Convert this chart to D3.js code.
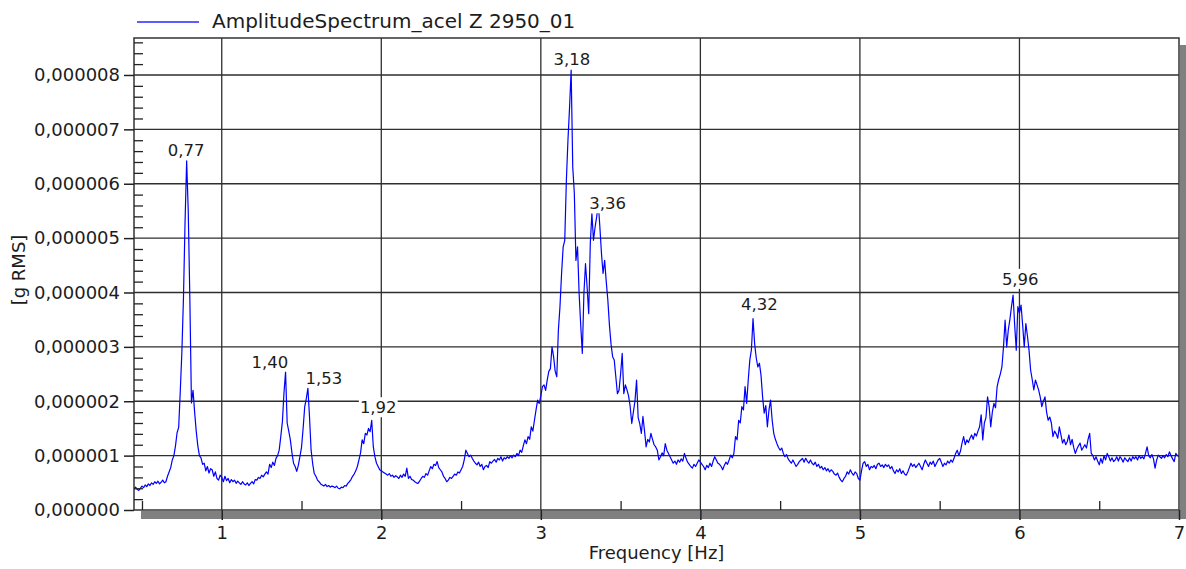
<!DOCTYPE html>
<html>
<head>
<meta charset="utf-8">
<script src="https://cdn.jsdelivr.net/npm/d3@7/dist/d3.min.js"></script>
<style>
  html, body { margin: 0; padding: 0; background: #fff; }
  svg { display: block; font-family: "DejaVu Sans", Verdana, sans-serif; }
</style>
</head>
<body>
<svg id="chart" width="1186" height="569"></svg>
<script>
// ---------------- DATA ----------------
const seriesName = "AmplitudeSpectrum_acel Z 2950_01";
const xTitle = "Frequency [Hz]";
const yTitle = "[g RMS]";
// frequency bins: start and spacing [Hz]
const freqStart = 0.45;
const freqStep = 0.01;
// amplitude per bin, in units of 1e-6 g RMS
const amplitude = [
  0.40, 0.42, 0.38, 0.36, 0.40,                               // 0.45
  0.44, 0.41, 0.46, 0.43, 0.48, 0.45, 0.50, 0.47, 0.52, 0.49, // 0.50
  0.53, 0.48, 0.51, 0.55, 0.50, 0.52, 0.62, 0.70, 0.78, 0.92, // 0.60
  1.00, 1.18, 1.42, 1.52, 2.18, 2.90, 3.90, 5.30, 6.42, 5.50, // 0.70
  3.90, 1.97, 2.20, 1.80, 1.45, 1.18, 1.00, 0.96, 0.84, 0.86, // 0.80
  0.72, 0.80, 0.68, 0.76, 0.74, 0.62, 0.70, 0.58, 0.55, 0.64, // 0.90
  0.60, 0.52, 0.62, 0.54, 0.58, 0.50, 0.56, 0.52, 0.55, 0.49, // 1.00
  0.53, 0.50, 0.47, 0.52, 0.48, 0.46, 0.50, 0.45, 0.49, 0.52, // 1.10
  0.48, 0.56, 0.55, 0.60, 0.58, 0.64, 0.61, 0.66, 0.70, 0.66, // 1.20
  0.84, 0.78, 0.88, 0.82, 0.95, 1.00, 1.10, 1.35, 1.62, 2.15, // 1.30
  2.54, 1.60, 1.45, 1.29, 1.05, 0.86, 0.80, 0.71, 0.82, 0.98, // 1.40
  1.15, 1.50, 1.90, 2.05, 2.24, 1.72, 1.10, 0.85, 0.67, 0.62, // 1.50
  0.55, 0.52, 0.48, 0.46, 0.44, 0.47, 0.43, 0.45, 0.42, 0.44, // 1.60
  0.43, 0.41, 0.44, 0.40, 0.39, 0.42, 0.41, 0.45, 0.44, 0.49, // 1.70
  0.52, 0.56, 0.62, 0.66, 0.72, 0.80, 0.92, 1.05, 1.29, 1.22, // 1.80
  1.41, 1.38, 1.50, 1.44, 1.65, 1.16, 0.98, 0.86, 0.80, 0.74, // 1.90
  0.72, 0.70, 0.68, 0.66, 0.64, 0.67, 0.62, 0.64, 0.60, 0.63, // 2.00
  0.61, 0.58, 0.64, 0.60, 0.66, 0.62, 0.77, 0.58, 0.62, 0.56, // 2.10
  0.55, 0.52, 0.50, 0.49, 0.53, 0.58, 0.62, 0.60, 0.67, 0.64, // 2.20
  0.72, 0.80, 0.76, 0.84, 0.82, 0.89, 0.78, 0.74, 0.70, 0.62, // 2.30
  0.58, 0.52, 0.55, 0.60, 0.58, 0.62, 0.66, 0.64, 0.70, 0.68, // 2.40
  0.74, 0.80, 0.92, 1.10, 1.04, 0.98, 1.01, 0.95, 0.90, 0.86, // 2.50
  0.83, 0.88, 0.80, 0.84, 0.74, 0.80, 0.82, 0.78, 0.89, 0.86, // 2.60
  0.90, 0.93, 0.88, 0.95, 0.92, 0.98, 0.90, 0.96, 0.94, 0.98, // 2.70
  0.95, 1.00, 0.96, 1.01, 0.98, 1.04, 1.00, 1.10, 1.06, 1.18, // 2.80
  1.29, 1.22, 1.35, 1.30, 1.53, 1.45, 1.65, 1.84, 2.02, 1.96, // 2.90
  2.10, 2.27, 2.30, 2.20, 2.39, 2.55, 2.60, 3.00, 2.82, 2.55, // 3.00
  2.45, 3.31, 3.74, 4.35, 4.84, 4.96, 6.06, 6.80, 7.40, 8.09, // 3.10
  6.31, 5.82, 4.59, 4.84, 3.98, 3.40, 2.88, 3.98, 4.53, 4.10, // 3.20
  3.61, 4.90, 5.45, 4.96, 5.20, 5.39, 5.64, 5.21, 4.72, 4.35, // 3.30
  4.59, 4.20, 3.86, 3.40, 3.05, 2.82, 2.76, 2.45, 2.14, 2.20, // 3.40
  2.50, 2.88, 2.14, 2.30, 2.21, 2.10, 1.90, 1.59, 1.80, 2.00, // 3.50
  2.39, 1.70, 1.59, 1.41, 1.72, 1.45, 1.16, 1.30, 1.25, 1.41, // 3.60
  1.30, 1.20, 1.16, 1.10, 0.92, 0.98, 1.05, 1.00, 1.22, 1.10, // 3.70
  1.04, 0.98, 0.92, 0.86, 0.90, 0.84, 0.92, 0.88, 0.94, 0.90, // 3.80
  1.04, 0.95, 0.88, 0.84, 0.80, 0.77, 0.84, 0.80, 0.86, 0.92, // 3.90
  0.88, 0.84, 0.80, 0.74, 0.82, 0.78, 0.86, 0.80, 0.90, 0.98, // 4.00
  0.92, 0.86, 0.84, 0.80, 0.74, 0.82, 0.88, 0.84, 0.92, 1.01, // 4.10
  0.96, 1.04, 1.35, 1.29, 1.65, 1.60, 1.90, 1.84, 2.27, 1.96, // 4.20
  2.39, 2.76, 2.95, 3.52, 3.06, 2.80, 2.63, 2.70, 2.48, 2.08, // 4.30
  1.78, 1.92, 1.53, 1.84, 2.02, 1.65, 1.41, 1.30, 1.22, 1.15, // 4.40
  1.10, 1.14, 1.04, 0.98, 1.02, 0.94, 0.90, 0.86, 0.92, 0.86, // 4.50
  0.80, 0.84, 0.89, 0.92, 0.95, 0.88, 0.95, 0.90, 0.86, 0.92, // 4.60
  0.86, 0.83, 0.88, 0.80, 0.84, 0.77, 0.80, 0.74, 0.78, 0.72, // 4.70
  0.76, 0.70, 0.74, 0.71, 0.66, 0.64, 0.68, 0.60, 0.55, 0.52, // 4.80
  0.58, 0.62, 0.70, 0.66, 0.74, 0.68, 0.64, 0.70, 0.67, 0.58, // 4.90
  0.55, 0.72, 0.86, 0.89, 0.80, 0.84, 0.74, 0.80, 0.78, 0.82, // 5.00
  0.76, 0.84, 0.86, 0.80, 0.83, 0.78, 0.84, 0.80, 0.83, 0.76, // 5.10
  0.80, 0.72, 0.67, 0.74, 0.70, 0.76, 0.67, 0.72, 0.66, 0.64, // 5.20
  0.70, 0.78, 0.86, 0.80, 0.84, 0.78, 0.82, 0.86, 0.80, 0.74, // 5.30
  0.84, 0.92, 0.86, 0.80, 0.88, 0.84, 0.90, 0.80, 0.86, 0.92, // 5.40
  0.95, 0.88, 0.80, 0.86, 0.83, 0.90, 0.86, 0.92, 0.88, 0.95, // 5.50
  1.04, 1.10, 1.00, 1.08, 1.23, 1.35, 1.20, 1.29, 1.24, 1.32, // 5.60
  1.38, 1.30, 1.41, 1.36, 1.45, 1.53, 1.75, 1.29, 1.60, 1.70, // 5.70
  2.08, 1.90, 1.53, 1.80, 1.96, 1.88, 2.27, 2.40, 2.50, 2.63, // 5.80
  3.00, 3.49, 3.00, 3.31, 3.50, 3.74, 3.95, 3.40, 2.94, 3.74, // 5.90
  3.62, 3.77, 3.40, 3.00, 3.43, 3.20, 2.94, 2.57, 2.40, 2.21, // 6.00
  2.39, 2.30, 2.21, 2.08, 1.90, 2.00, 2.08, 1.80, 1.65, 1.71, // 6.10
  1.60, 1.35, 1.45, 1.40, 1.32, 1.53, 1.38, 1.23, 1.30, 1.20, // 6.20
  1.26, 1.38, 1.20, 1.30, 1.15, 1.04, 1.12, 1.18, 1.23, 1.10, // 6.30
  1.15, 1.20, 1.14, 1.30, 1.41, 1.04, 1.00, 0.92, 0.98, 0.90, // 6.40
  0.83, 0.95, 0.86, 1.00, 0.92, 1.04, 0.98, 0.90, 0.96, 0.89, // 6.50
  0.92, 0.98, 0.90, 0.98, 0.94, 0.88, 0.96, 0.92, 0.89, 0.96, // 6.60
  0.90, 0.98, 0.94, 0.98, 0.92, 1.00, 0.95, 0.98, 0.94, 1.04, // 6.70
  1.16, 1.00, 0.96, 1.02, 0.94, 0.77, 0.92, 1.01, 0.98, 0.95, // 6.80
  1.00, 0.96, 1.02, 0.98, 1.07, 1.00, 0.94, 0.89, 1.04, 1.00, // 6.90
  0.98                                                        // 7.00
];
// axis ticks
const xMajorTicks = [1, 2, 3, 4, 5, 6, 7];
const xMinorTicks = [0.5, 1.5, 2.5, 3.5, 4.5, 5.5, 6.5];
const yMajorTicks = [0, 1, 2, 3, 4, 5, 6, 7, 8];
// peak annotations: text, anchor frequency and anchor amplitude (1e-6)
const peakLabels = ["0,77", "1,40", "1,53", "1,92", "3,18", "3,36", "4,32", "5,96"];
const peakLabelFreq = [0.777, 1.302, 1.640, 1.981, 3.195, 3.418, 4.370, 6.005];
const peakLabelAmp = [6.51, 2.62, 2.32, 1.78, 8.18, 5.53, 3.68, 4.14];

// ---------------- CHART ----------------
const svg = d3.select("#chart");
const plot = { left: 134, right: 1179, top: 38, bottom: 510 };

const x = d3.scaleLinear().domain([0.45, 7.0]).range([plot.left, plot.right]);
const y = d3.scaleLinear().domain([0, 8.68]).range([plot.bottom, plot.top]);

const points = amplitude.map((v, i) => ({ f: freqStart + i * freqStep, v }));

const textColor = "#1c1c1c";
const gridColor = "#2e2e2e";

// shadow bars (right and bottom)
svg.append("rect").attr("x", plot.right + 1).attr("y", plot.top + 7)
  .attr("width", 6).attr("height", plot.bottom - plot.top + 2).attr("fill", "#808080");
svg.append("rect").attr("x", x(0.5) - 1).attr("y", plot.bottom + 1)
  .attr("width", 1186 - x(0.5) + 1).attr("height", 8).attr("fill", "#808080");

// plot background
svg.append("rect").attr("x", plot.left).attr("y", plot.top)
  .attr("width", plot.right - plot.left).attr("height", plot.bottom - plot.top)
  .attr("fill", "#fff");

// grid lines
const grid = svg.append("g");
grid.selectAll("line.h").data(yMajorTicks.filter(d => d > 0)).join("line")
  .attr("x1", plot.left).attr("x2", plot.right)
  .attr("y1", d => y(d)).attr("y2", d => y(d))
  .attr("stroke", gridColor).attr("stroke-width", 1.3);
grid.selectAll("line.v").data(xMajorTicks.filter(d => d < 7)).join("line")
  .attr("y1", plot.top).attr("y2", plot.bottom)
  .attr("x1", d => x(d)).attr("x2", d => x(d))
  .attr("stroke", gridColor).attr("stroke-width", 1.3);

// spectrum line
const clipId = "plotclip";
svg.append("clipPath").attr("id", clipId).append("rect")
  .attr("x", plot.left).attr("y", plot.top)
  .attr("width", plot.right - plot.left).attr("height", plot.bottom - plot.top);
svg.append("path").datum(points)
  .attr("clip-path", `url(#${clipId})`)
  .attr("fill", "none").attr("stroke", "#0000ff").attr("stroke-width", 1.2)
  .attr("stroke-linejoin", "round")
  .attr("d", d3.line().x(d => x(d.f)).y(d => y(d.v)));

// frame
svg.append("rect").attr("x", plot.left).attr("y", plot.top)
  .attr("width", plot.right - plot.left).attr("height", plot.bottom - plot.top)
  .attr("fill", "none").attr("stroke", "#333").attr("stroke-width", 1.5);

// y axis: major (outward) and minor (inward) ticks
const fmtY = d => (d / 1e6).toFixed(6).replace(".", ",");
const yAxis = svg.append("g").attr("transform", `translate(${plot.left},0)`)
  .call(d3.axisLeft(y).tickValues(yMajorTicks).tickSize(10).tickPadding(4).tickFormat(fmtY));
yAxis.select(".domain").remove();
yAxis.selectAll("line").attr("stroke", "#222").attr("stroke-width", 1.5);
yAxis.selectAll("text").attr("font-size", 18).attr("fill", textColor)
  .attr("font-family", "DejaVu Sans, Verdana, sans-serif");

const yMinor = d3.range(0, 8.61, 0.2).filter(t => Math.abs(t - Math.round(t)) > 1e-6);
const yAxisMinor = svg.append("g").attr("transform", `translate(${plot.left},0)`)
  .call(d3.axisLeft(y).tickValues(yMinor).tickSize(-9).tickFormat(""));
yAxisMinor.select(".domain").remove();
yAxisMinor.selectAll("line").attr("stroke", "#222").attr("stroke-width", 1.3);

// x axis: major (outward) and minor (inward) ticks
const xAxis = svg.append("g").attr("transform", `translate(0,${plot.bottom})`)
  .call(d3.axisBottom(x).tickValues(xMajorTicks).tickSize(10).tickPadding(6).tickFormat(d3.format("d")));
xAxis.select(".domain").remove();
xAxis.selectAll("line").attr("stroke", "#222").attr("stroke-width", 1.5);
xAxis.selectAll("text").attr("font-size", 18).attr("fill", textColor)
  .attr("font-family", "DejaVu Sans, Verdana, sans-serif");

const xAxisMinor = svg.append("g").attr("transform", `translate(0,${plot.bottom})`)
  .call(d3.axisBottom(x).tickValues(xMinorTicks).tickSize(-9).tickFormat(""));
xAxisMinor.select(".domain").remove();
xAxisMinor.selectAll("line").attr("stroke", "#222").attr("stroke-width", 1.3);

// axis titles
svg.append("text").attr("x", (plot.left + plot.right) / 2).attr("y", 559)
  .attr("text-anchor", "middle").attr("font-size", 18).attr("fill", textColor)
  .text(xTitle);
svg.append("text")
  .attr("transform", `translate(25,${(plot.top + plot.bottom) / 2 - 4}) rotate(-90)`)
  .attr("text-anchor", "middle").attr("font-size", 18).attr("fill", textColor)
  .text(yTitle);

// peak labels with white background
const labels = svg.append("g");
peakLabels.forEach((t, i) => {
  const g = labels.append("g");
  const rect = g.append("rect").attr("fill", "#fff");
  const txt = g.append("text")
    .attr("x", x(peakLabelFreq[i])).attr("y", y(peakLabelAmp[i]))
    .attr("text-anchor", "middle").attr("font-size", 16.5).attr("fill", textColor)
    .text(t);
  const bb = txt.node().getBBox();
  rect.attr("x", bb.x - 1).attr("y", bb.y - 1).attr("width", bb.width + 2).attr("height", bb.height + 1);
});

// legend
svg.append("line").attr("x1", 137).attr("x2", 199).attr("y1", 22).attr("y2", 22)
  .attr("stroke", "#5c5cff").attr("stroke-width", 1.8);
svg.append("text").attr("x", 212).attr("y", 28).attr("font-size", 20).attr("fill", textColor)
  .text(seriesName);
</script>
</body>
</html>
